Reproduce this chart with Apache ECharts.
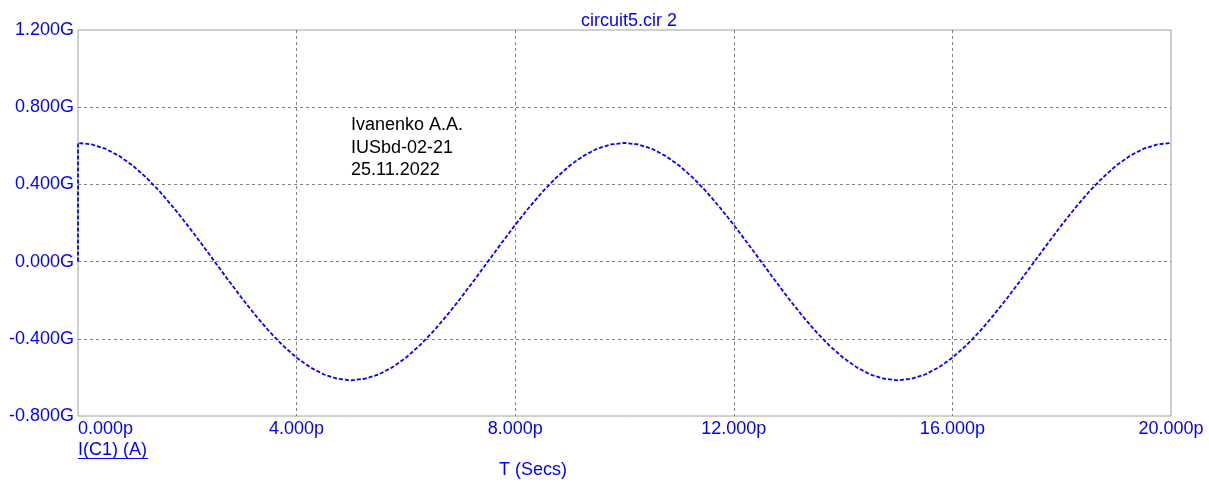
<!DOCTYPE html>
<html>
<head>
<meta charset="utf-8">
<title>circuit5.cir 2</title>
<script src="https://cdn.jsdelivr.net/npm/echarts@6/dist/echarts.min.js"></script>
<style>
  html, body { margin: 0; padding: 0; background: #ffffff; }
  #chart { width: 1209px; height: 484px; }
</style>
</head>
<body>
<div id="chart"></div>
<script>
// Transient simulation: time in ps, capacitor current I(C1) in GA
const timePs = [
  0, 0, 0.25, 0.5, 0.75, 1, 1.25, 1.5, 1.75, 2, 2.25, 2.5, 2.75, 3, 3.25, 3.5, 3.75, 4, 4.25, 4.5, 4.75,
  5, 5.25, 5.5, 5.75, 6, 6.25, 6.5, 6.75, 7, 7.25, 7.5, 7.75, 8, 8.25, 8.5, 8.75, 9, 9.25, 9.5, 9.75,
  10, 10.25, 10.5, 10.75, 11, 11.25, 11.5, 11.75, 12, 12.25, 12.5, 12.75, 13, 13.25, 13.5, 13.75, 14, 14.25, 14.5, 14.75,
  15, 15.25, 15.5, 15.75, 16, 16.25, 16.5, 16.75, 17, 17.25, 17.5, 17.75, 18, 18.25, 18.5, 18.75, 19, 19.25, 19.5, 19.75, 20
];
const currentG = [
  0.000, 0.615, 0.607, 0.585, 0.548, 0.498, 0.435, 0.362, 0.279, 0.190, 0.096, 0.000, -0.096, -0.190, -0.279, -0.362, -0.435, -0.498, -0.548, -0.585, -0.607,
  -0.615, -0.607, -0.585, -0.548, -0.498, -0.435, -0.362, -0.279, -0.190, -0.096, 0.000, 0.096, 0.190, 0.279, 0.362, 0.435, 0.498, 0.548, 0.585, 0.607,
  0.615, 0.607, 0.585, 0.548, 0.498, 0.435, 0.362, 0.279, 0.190, 0.096, 0.000, -0.096, -0.190, -0.279, -0.362, -0.435, -0.498, -0.548, -0.585, -0.607,
  -0.615, -0.607, -0.585, -0.548, -0.498, -0.435, -0.362, -0.279, -0.190, -0.096, 0.000, 0.096, 0.190, 0.279, 0.362, 0.435, 0.498, 0.548, 0.585, 0.607, 0.615
];
const xTicks = [0, 4, 8, 12, 16, 20];
const yTicks = [-0.8, -0.4, 0, 0.4, 0.8, 1.2];
const titleText = 'circuit5.cir 2';
const traceName = 'I(C1) (A)';
const xName = 'T (Secs)';
const noteLines = ['Ivanenko A.A.', 'IUSbd-02-21', '25.11.2022'];

const BLUE = '#0000ff';
const FONT = '"Liberation Sans", Arial, sans-serif';
const FS = 18;
const seriesData = timePs.map((t, i) => [t, currentG[i]]);

const gridLine = { show: true, showMinLine: false, showMaxLine: false,
  lineStyle: { color: '#808080', type: [3, 3], width: 1 } };

const chart = echarts.init(document.getElementById('chart'), null, { renderer: 'canvas' });
chart.setOption({
  animation: false,
  backgroundColor: '#ffffff',
  title: {
    text: titleText,
    left: 624, top: 7, textAlign: 'center',
    textStyle: { color: BLUE, fontFamily: FONT, fontSize: FS, fontWeight: 'normal' }
  },
  grid: {
    left: 78, right: 38, top: 30, bottom: 68,
    show: true, borderColor: '#a0a0a0', borderWidth: 1, backgroundColor: '#ffffff'
  },
  xAxis: {
    type: 'value',
    min: xTicks[0], max: xTicks[xTicks.length - 1], interval: xTicks[1] - xTicks[0],
    axisLine: { show: false }, axisTick: { show: false },
    splitLine: gridLine,
    axisLabel: {
      color: BLUE, fontFamily: FONT, fontSize: FS, margin: 4,
      alignMinLabel: 'left',
      formatter: v => v.toFixed(3) + 'p'
    }
  },
  yAxis: {
    type: 'value',
    min: yTicks[0], max: yTicks[yTicks.length - 1], interval: yTicks[1] - yTicks[0],
    axisLine: { show: false }, axisTick: { show: false },
    splitLine: gridLine,
    axisLabel: {
      color: BLUE, fontFamily: FONT, fontSize: FS, margin: 4,
      formatter: v => v.toFixed(3) + 'G'
    }
  },
  series: [{
    type: 'line',
    name: traceName,
    data: seriesData,
    showSymbol: false,
    smooth: false,
    clip: true,
    lineStyle: { color: BLUE, width: 1.8, type: [4, 2] }
  }],
  graphic: [
    {
      type: 'text', left: 78, top: 441,
      style: { text: traceName, fill: BLUE, font: FS + 'px ' + FONT }
    },
    {
      type: 'line', shape: { x1: 78, y1: 458.5, x2: 148, y2: 458.5 },
      style: { stroke: BLUE, lineWidth: 1 }
    },
    {
      type: 'text', left: 499, top: 461,
      style: { text: xName, fill: BLUE, font: FS + 'px ' + FONT }
    },
    {
      type: 'text', left: 351, top: 114,
      style: { text: noteLines.join('\n'), fill: '#000000', font: FS + 'px ' + FONT, lineHeight: 22.5 }
    }
  ]
});
</script>
</body>
</html>
